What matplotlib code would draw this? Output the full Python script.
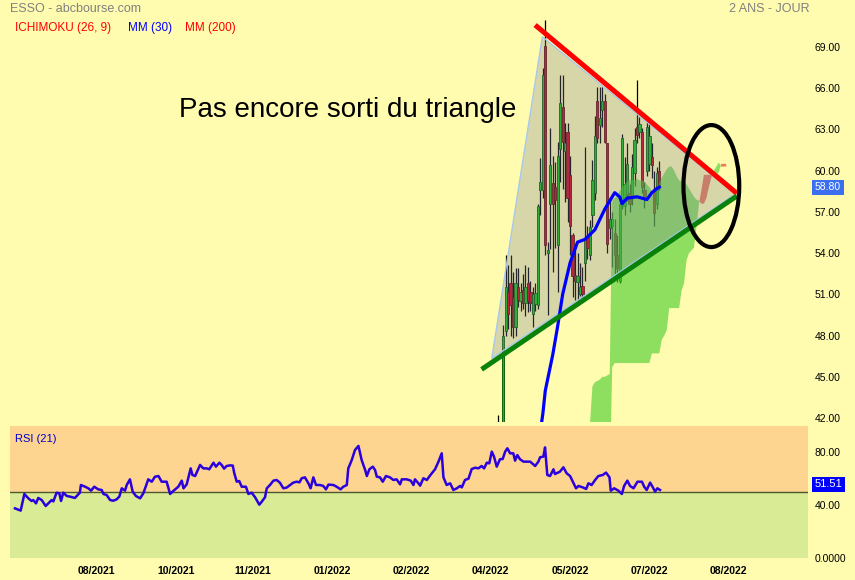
import matplotlib
matplotlib.use("Agg")
import matplotlib.pyplot as plt
from matplotlib.patches import Polygon, Ellipse

plt.rcParams['font.family'] = ['Liberation Sans', 'DejaVu Sans']

# ---- data (x = trading-day index) ----
candle_start = 197
opens = [38.0, 39.0, 39.5, 48.3, 51.2, 51.8, 50.8, 48.6, 51.5, 50.5,
         51.3, 50.4, 51.8, 51.2, 49.6, 50.3, 50.2, 58.6, 58.6, 69.1,
         54.0, 57.6, 59.1, 58.8, 54.6, 61.6, 64.6, 61.4, 62.8, 59.7,
         55.3, 52.4, 51.9, 51.0, 51.6, 53.3, 55.2, 53.9, 56.8, 58.4,
         65.1, 63.3, 64.4, 65.1, 62.0, 55.8, 56.0, 55.5, 53.9, 52.0,
         57.4, 57.4, 58.3, 58.4, 58.0, 59.8, 63.2, 62.8, 62.8, 58.6,
         60.0, 60.5, 61.0, 58.6, 57.6, 60.0]
highs = [42.2, 41.0, 48.8, 53.9, 53.1, 53.9, 52.6, 52.9, 52.9, 51.8,
         52.5, 53.1, 53.0, 52.0, 51.5, 51.8, 57.6, 60.9, 67.5, 71.0,
         54.8, 63.1, 61.1, 60.6, 62.1, 67.0, 67.0, 63.5, 63.5, 61.1,
         55.5, 54.4, 54.0, 53.3, 53.0, 61.7, 56.0, 56.4, 60.8, 64.0,
         66.1, 66.1, 66.1, 65.6, 62.0, 57.9, 57.0, 56.5, 55.3, 57.9,
         62.7, 61.0, 62.0, 59.0, 61.2, 63.1, 66.6, 63.9, 63.1, 59.2,
         63.6, 63.5, 62.0, 60.0, 60.3, 60.7]
lows = [37.0, 38.0, 39.0, 48.0, 48.5, 48.0, 47.8, 48.0, 50.1, 49.8,
        49.9, 49.4, 49.7, 49.8, 48.6, 49.8, 49.9, 56.8, 58.0, 53.9,
        49.5, 54.3, 52.6, 54.4, 51.2, 59.2, 58.7, 57.7, 56.3, 53.9,
        50.8, 50.6, 50.6, 50.9, 50.7, 52.0, 53.6, 53.5, 55.9, 57.9,
        62.0, 62.0, 63.2, 62.0, 54.0, 55.0, 53.0, 52.5, 51.9, 51.8,
        57.2, 56.8, 57.8, 57.0, 57.5, 58.9, 62.0, 62.4, 58.4, 57.3,
        59.6, 60.0, 59.5, 56.0, 57.2, 58.6]
closes = [39.0, 39.5, 48.0, 51.5, 49.6, 50.2, 48.6, 51.8, 50.6, 51.2,
          50.4, 51.5, 50.5, 50.4, 51.0, 51.1, 57.4, 59.2, 67.0, 54.6,
          54.2, 60.4, 57.6, 57.9, 61.1, 64.9, 62.1, 62.0, 58.0, 56.0,
          52.3, 52.0, 52.3, 51.5, 51.0, 55.1, 54.4, 55.9, 59.3, 62.5,
          62.4, 63.8, 65.1, 62.1, 54.7, 56.5, 56.5, 53.9, 52.9, 57.6,
          62.4, 59.0, 60.5, 57.6, 60.3, 62.2, 62.6, 63.4, 58.8, 58.1,
          63.2, 62.5, 60.4, 56.9, 59.8, 58.8]

mm30_x = [212, 215, 216, 219, 221, 223, 226, 229, 232, 236, 240, 242,
          244, 246, 247, 249, 253, 257, 259, 261, 262]
mm30 = [38.5, 42.3, 44.0, 46.6, 48.7, 51.0, 53.3, 54.8, 55.0, 55.7, 57.2, 57.8,
        58.4, 58.1, 57.6, 58.0, 58.1, 57.9, 58.4, 58.7, 58.8]

cloud_x = list(range(232, 290))
span_a = [38.0, 38.5, 41.5, 44.3, 44.6, 44.7, 44.8, 45.0, 45.0, 45.1,
          45.2, 57.8, 58.0, 58.2, 58.5, 58.8, 59.0, 59.2, 59.3, 59.3,
          59.3, 59.4, 59.3, 59.3, 59.2, 59.0, 58.8, 58.5, 58.4, 58.6,
          59.1, 59.5, 59.8, 60.1, 60.3, 60.3, 60.0, 59.6, 59.3, 59.2,
          59.1, 59.0, 58.7, 58.4, 58.1, 57.9, 57.8, 57.6, 57.6, 58.0,
          58.8, 59.5, 60.0, 60.3, 60.6, 60.3, 60.3, 60.3]
span_b = [37.0] * 11 + [45.7] + [46.0] * 15 + [46.7] * 4 + \
         [47.7, 48.0, 48.4] + [50.0] * 5 + \
         [51.3, 51.8, 53.5, 54.0, 54.2, 54.4, 55.9, 57.6, 58.6] + \
         [59.7] * 4 + [59.7, 59.7, 59.9] + [60.5] * 3

rsi_x = [2.0, 4.3, 5.8, 7.4, 8.7, 9.4, 10.5, 11.4, 12.8, 14.4,
         16.8, 17.5, 18.8, 19.9, 20.6, 21.5, 22.9, 24.2, 26.2, 28.2,
         28.6, 30.3, 31.6, 32.7, 34.0, 35.6, 37.0, 37.7, 39.0, 40.4,
         41.7, 43.0, 44.1, 45.1, 46.4, 47.1, 48.4, 49.5, 50.8, 52.5,
         53.8, 55.2, 55.8, 57.2, 58.5, 59.9, 61.2, 63.2, 64.6, 65.9,
         67.9, 69.3, 70.0, 71.3, 72.9, 73.6, 74.7, 76.7, 78.0, 79.4,
         80.4, 82.1, 83.1, 84.5, 85.4, 86.4, 87.4, 88.8, 89.9, 90.5,
         91.5, 92.5, 93.5, 95.2, 96.2, 97.5, 98.9, 100.6, 101.6, 102.9,
         103.6, 104.9, 106.3, 107.6, 108.9, 110.3, 111.6, 113.0, 114.3, 115.7,
         116.8, 117.7, 119.0, 120.4, 121.3, 122.4, 123.5, 125.1, 126.4, 127.5,
         128.5, 130.5, 131.8, 133.4, 134.5, 135.9, 136.5, 137.9, 139.2, 140.6,
         141.9, 143.3, 144.0, 145.0, 146.4, 147.3, 148.0, 149.3, 150.4, 151.7,
         153.3, 154.7, 156.0, 157.4, 158.1, 160.1, 161.7, 162.8, 163.4, 164.8,
         165.5, 166.8, 168.2, 169.5, 171.5, 172.9, 174.2, 174.9, 176.2, 177.6,
         178.9, 180.3, 181.6, 182.3, 183.6, 185.0, 186.3, 187.7, 189.0, 190.3,
         191.3, 192.4, 193.4, 194.4, 195.3, 196.4, 197.7, 198.8, 199.8, 200.7,
         201.8, 203.1, 203.8, 204.7, 205.8, 207.2, 208.5, 209.9, 211.9, 213.2,
         213.9, 215.2, 215.9, 216.8, 217.9, 219.3, 219.9, 221.9, 223.3, 224.6,
         226.0, 227.1, 228.4, 229.4, 231.1, 232.5, 233.4, 234.7, 236.1, 237.4,
         239.2, 240.5, 241.9, 242.4, 243.8, 245.5, 246.9, 247.8, 249.1, 250.2,
         251.6, 253.2, 255.0, 255.9, 256.9, 258.3, 259.4, 260.3, 261.2, 262.3]
rsi = [37.6, 35.9, 48.5, 45.2, 43.2, 43.9, 41.4, 45.5, 43.9, 39.4,
       43.9, 42.9, 49.5, 49.0, 43.2, 49.5, 47.0, 46.5, 45.5, 49.5,
       55.3, 54.0, 52.8, 51.0, 54.0, 52.0, 51.5, 48.5, 47.7, 43.9,
       43.4, 44.4, 46.5, 52.8, 51.0, 55.3, 59.6, 50.3, 47.0, 45.2,
       49.0, 56.6, 59.6, 57.8, 61.6, 62.1, 57.8, 57.8, 48.5, 50.8,
       54.0, 58.6, 52.8, 55.8, 67.9, 62.9, 62.1, 70.5, 67.9, 67.9,
       67.2, 72.2, 69.2, 72.2, 70.5, 67.7, 69.7, 70.2, 70.0, 64.2,
       57.8, 58.3, 54.0, 54.0, 48.5, 49.5, 46.0, 40.4, 42.7, 46.0,
       52.8, 55.3, 58.6, 59.1, 57.1, 52.8, 53.3, 55.3, 57.1, 57.8,
       57.3, 60.4, 61.1, 56.6, 52.8, 61.1, 55.3, 55.3, 54.6, 52.0,
       55.6, 55.3, 54.0, 52.0, 54.0, 55.3, 67.9, 74.2, 81.8, 84.9,
       74.2, 66.7, 62.1, 67.2, 69.2, 66.7, 61.6, 61.1, 57.8, 62.1,
       61.1, 59.1, 59.6, 55.8, 59.6, 59.6, 58.6, 55.3, 59.6, 56.6,
       54.8, 60.4, 59.1, 62.5, 67.2, 73.0, 79.3, 61.1, 55.3, 56.6,
       51.5, 52.8, 54.6, 53.5, 59.1, 60.1, 67.4, 68.4, 67.9, 69.7,
       67.9, 72.2, 71.7, 80.6, 76.8, 69.2, 74.8, 75.0, 80.6, 83.1,
       79.3, 79.3, 73.7, 78.0, 74.8, 73.0, 73.0, 73.0, 69.7, 73.0,
       76.3, 76.8, 83.8, 62.9, 62.1, 67.2, 63.6, 65.4, 68.7, 64.2,
       62.1, 57.8, 52.8, 54.6, 53.5, 52.3, 56.6, 55.3, 59.1, 62.1,
       62.9, 64.7, 61.1, 51.0, 52.8, 51.0, 48.5, 54.6, 58.6, 54.6,
       52.8, 57.8, 57.8, 54.0, 51.5, 57.1, 53.5, 50.3, 52.8, 51.51]

# drawing: triangle vertices, resistance / support lines, circled zone
triangle = [(214.8, 69.75), (194.4, 46.34), (292.6, 58.3)]
resistance = ([211.9, 293.3], [70.6, 58.35])
support = ([190.3, 293.3], [45.54, 58.16])

date_pos = [35, 67, 98, 130, 162, 194, 226, 258, 290]
date_labels = ['08/2021', '10/2021', '11/2021', '01/2022', '02/2022',
               '04/2022', '05/2022', '07/2022', '08/2022']
price_ticks = [42, 45, 48, 51, 54, 57, 60, 63, 66, 69]

BG = '#FFFCB0'
W, H = 855, 580

fig = plt.figure(figsize=(W / 100, H / 100), dpi=100, facecolor=BG)
ax = fig.add_axes([10 / W, 1 - 422 / H, 798 / W, 414 / H])
ax.set_facecolor(BG)
ax.set_xlim(0, 322)
ax.set_ylim(41.71, 71.84)

# candles
xs = [candle_start + i for i in range(len(closes))]
ax.vlines(xs, lows, highs, color='black', lw=0.9, zorder=2)
for x, o, c in zip(xs, opens, closes):
    up = c >= o
    ax.bar(x, abs(c - o), bottom=min(o, c), width=0.9,
           color='#10C010' if up else '#D0001A',
           edgecolor='#005500' if up else '#600000', lw=0.6, zorder=3)

# ichimoku cloud
a_above = [a >= b for a, b in zip(span_a, span_b)]
ax.fill_between(cloud_x, span_a, span_b, where=a_above, interpolate=True,
                color='#43CD2B', alpha=0.6, lw=0, zorder=4)
ax.fill_between(cloud_x, span_a, span_b, where=[not v for v in a_above],
                interpolate=True, color='#E03A2A', alpha=0.65, lw=0, zorder=4)

# triangle
ax.add_patch(Polygon(triangle, closed=True, facecolor='#7D8098', alpha=0.3,
                     edgecolor='none', zorder=5))
ax.add_patch(Polygon(triangle, closed=True, facecolor='none',
                     edgecolor='#A8C8EC', lw=1, zorder=5))

ax.plot(mm30_x, mm30, color='#0000FF', lw=2.3, zorder=6)
ax.plot(*resistance, color='#FF0000', lw=3.6, solid_capstyle='butt', zorder=7)
ax.plot(*support, color='#0A820A', lw=3.6, solid_capstyle='butt', zorder=7)
ax.add_patch(Ellipse((283.0, 58.88), width=22.5, height=8.88, fill=False,
                     edgecolor='black', lw=3, zorder=8))

ax.text(136.4, 64.4, 'Pas encore sorti du triangle', fontsize=20,
        ha='center', va='center', color='black')

ax.yaxis.tick_right()
ax.set_yticks(price_ticks)
ax.set_yticklabels(['%.2f' % v for v in price_ticks])
ax.tick_params(axis='y', length=0, pad=5, labelsize=7.5)
ax.set_xticks([])
for s in ax.spines.values():
    s.set_visible(False)

ax.annotate('%.2f' % closes[-1], xy=(1, closes[-1]),
            xycoords=('axes fraction', 'data'), xytext=(5, 0),
            textcoords='offset points', va='center', ha='left',
            fontsize=7.5, color='white',
            bbox=dict(boxstyle='square,pad=0.25', fc='#3C6EF0', ec='none'))

# RSI panel
rx = fig.add_axes([10 / W, 1 - 558 / H, 798 / W, 132 / H])
rx.set_xlim(0, 322)
rx.set_ylim(0, 100)
rx.axhspan(50, 100, color='#FDD591', lw=0)
rx.axhspan(0, 50, color='#DAEB95', lw=0)
rx.axhline(50, color='#4A5A30', lw=1)
rx.plot(rsi_x, rsi, color='#2A00DD', lw=1.8)
rx.text(2, 94, 'RSI (21)', color='#0000CC', fontsize=8, va='top')
rx.yaxis.tick_right()
rx.set_yticks([0, 40, 80])
rx.set_yticklabels(['0.0000', '40.00', '80.00'])
rx.tick_params(axis='y', length=0, pad=5, labelsize=7.5)
rx.set_xticks(date_pos)
rx.set_xticklabels(date_labels, fontweight='bold')
rx.tick_params(axis='x', length=0, pad=6, labelsize=7.5)
for s in rx.spines.values():
    s.set_visible(False)
rx.annotate('%.2f' % rsi[-1], xy=(1, rsi[-1]),
            xycoords=('axes fraction', 'data'), xytext=(5, 4),
            textcoords='offset points', va='center', ha='left',
            fontsize=8, color='white',
            bbox=dict(boxstyle='square,pad=0.25', fc='#0000FF', ec='none'))

# header
fig.text(10 / W, 1 - 9 / H, 'ESSO - abcbourse.com', color='#808080',
         fontsize=9, va='center')
fig.text(810 / W, 1 - 9 / H, '2 ANS - JOUR', color='#808080',
         fontsize=9, va='center', ha='right')
fig.text(15 / W, 1 - 28 / H, 'ICHIMOKU (26, 9)', color='#FF0000',
         fontsize=8.5, va='center')
fig.text(128 / W, 1 - 28 / H, 'MM (30)', color='#0000FF', fontsize=8.5,
         va='center')
fig.text(185 / W, 1 - 28 / H, 'MM (200)', color='#FF0000', fontsize=8.5,
         va='center')

fig.savefig('out.png', dpi=100, facecolor=BG)
